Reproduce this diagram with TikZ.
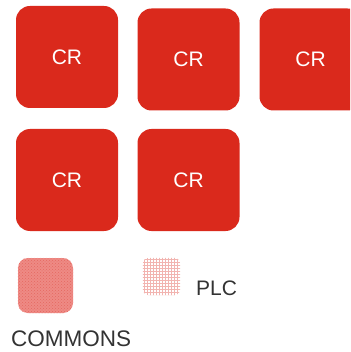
\documentclass[tikz,border=0pt]{standalone}
\usepackage{fontspec}
\setmainfont{Liberation Sans}
\usetikzlibrary{patterns}
\definecolor{crred}{HTML}{DA291C}
\definecolor{commonsred}{HTML}{EE8A85}
\definecolor{labelgray}{HTML}{333333}

\begin{document}
\begin{tikzpicture}[
  x=1pt, y=-1pt,
  block_cr/.style={rectangle, text centered, rounded corners=14pt, fill=crred,
    text=white, inner sep=0pt, minimum height = 102pt, minimum width = 102pt,
    font=\fontsize{21}{25}\selectfont},
  block_commons/.style={rectangle, rounded corners=10pt, inner sep=0pt,
    fill=commonsred, minimum height = 55pt, minimum width = 55pt},
  block_plc/.style={rectangle, rounded corners=6pt, inner sep=0pt,
    minimum height = 37pt, minimum width = 37pt},
  legend_text/.style={anchor=base west, inner sep=0pt, text=labelgray,
    font=\fontsize{22.5}{26}\selectfont}
  ]

\useasboundingbox (0,0) rectangle (350,352);
\clip (0,0) rectangle (350,352);

\node [block_cr] (cr1) at (67,57) {CR};
\node [block_cr] (cr2) at (188.5,59.5) {CR};
\node [block_cr] (cr3) at (310.5,59.5) {CR};
\node [block_cr] (cr4) at (67,180) {CR};
\node [block_cr] (cr5) at (188.5,180) {CR};

% legend
\node [block_commons] (commons) at (45.5,285.5) {};
\fill [pattern=crosshatch dots, pattern color=crred!70, rounded corners=10pt]
  (commons.north west) rectangle (commons.south east);
\node [legend_text] (commonslabel) at (11,346) {COMMONS};

\node [block_plc] (plc) at (161.5,276.5) {};
\fill [pattern=grid, pattern color=crred!35, rounded corners=6pt]
  (plc.north west) rectangle (plc.south east);
\node [legend_text, font=\fontsize{21}{25}\selectfont] (plclabel) at (196,295) {PLC};

\end{tikzpicture}
\end{document}
